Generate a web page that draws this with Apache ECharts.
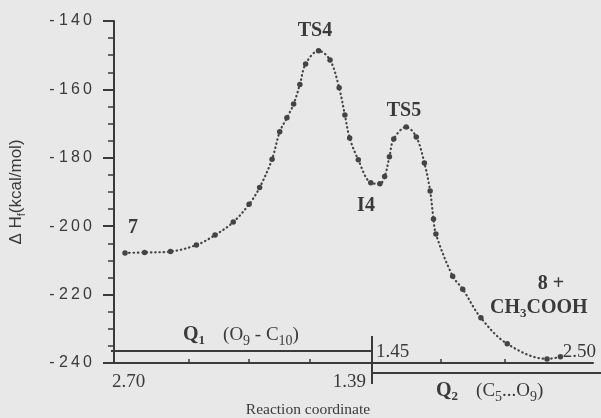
<!DOCTYPE html>
<html>
<head>
<meta charset="utf-8">
<script src="https://cdn.jsdelivr.net/npm/echarts@6/dist/echarts.min.js"></script>
<style>
html,body{margin:0;padding:0;background:#e8e8e8;}
#c{width:601px;height:418px;}
</style>
</head>
<body>
<div id="c"></div>
<script>
// Reaction coordinate (arbitrary units, 0-100 along the axis)
var coordX = [2.3, 6.4, 11.8, 17.2, 21.1, 24.9, 28.2, 30.4, 33.0, 34.6, 36.1, 37.5, 38.8, 40.0, 42.7, 45.1, 47.0, 48.2, 49.2, 51.0, 53.6, 55.5, 56.5, 57.5, 58.4, 61.0, 63.1, 64.8, 66.0, 66.7, 67.2, 70.7, 72.8, 76.6, 82.1, 90.4, 93.2];
// Heat of formation (kcal/mol)
var dHf = [-207.8, -207.7, -207.4, -205.5, -202.6, -198.8, -193.6, -188.7, -180.4, -172.4, -168.3, -164.3, -158.6, -152.6, -148.7, -151.4, -159.5, -167.5, -174.2, -180.6, -187.3, -187.6, -185.5, -179.7, -174.5, -171.0, -173.9, -181.5, -189.7, -197.9, -202.3, -214.6, -218.4, -226.8, -234.4, -238.8, -238.2];
var yTicks = [-240, -220, -200, -180, -160, -140];
var xTickPositions = [15.6, 28.2, 40.9, 68.3, 81.5];
var q1Labels = ['2.70', '1.39'];
var q2Labels = ['1.45', '2.50'];

var pts = coordX.map(function (x, i) { return [x, dHf[i]]; });
var ink = '#3a3a3a';
var serif = '"Liberation Serif","DejaVu Serif",serif';
var sans = '"Liberation Sans","DejaVu Sans",sans-serif';

var chart = echarts.init(document.getElementById('c'));
chart.setOption({
  backgroundColor: '#e8e8e8',
  animation: false,
  grid: {left: 111, right: 8, top: 21, bottom: 55},
  xAxis: {
    type: 'value', min: 0, max: 100,
    axisLine: {show: true, lineStyle: {color: ink, width: 2}},
    axisTick: {show: true, inside: true, length: 4, customValues: xTickPositions, lineStyle: {color: ink, width: 1.5}},
    axisLabel: {show: false},
    splitLine: {show: false}
  },
  yAxis: {
    type: 'value', min: yTicks[0], max: yTicks[yTicks.length - 1], interval: 20,
    name: '{n|\u0394 H}{s|f}{n|(kcal/mol)}',
    nameLocation: 'middle', nameGap: 87, nameRotate: 90,
    nameTextStyle: {rich: {
      n: {fontFamily: sans, fontSize: 17, color: ink},
      s: {fontFamily: sans, fontSize: 11, color: ink, padding: [10, 0, 0, 0]}
    }},
    axisLine: {show: true, lineStyle: {color: ink, width: 2}},
    axisTick: {show: true, length: 11, lineStyle: {color: ink, width: 2}},
    minorTick: {show: true, splitNumber: 4, length: 6, lineStyle: {color: ink, width: 1.5}},
    axisLabel: {
      margin: 22, fontFamily: sans, fontSize: 16, color: ink,
      formatter: function (v) {
        var s = String(v);
        return s.charAt(0) + ' ' + s.slice(1).split('').join('\u2009');
      }
    },
    splitLine: {show: false}
  },
  series: [{
    type: 'line', data: pts, smooth: 0.35,
    symbol: 'circle', symbolSize: 5.5,
    itemStyle: {color: '#444'},
    lineStyle: {color: '#444', width: 2.2, type: [0.5, 3.8], cap: 'round'},
    z: 5
  }],
  graphic: [
    {type: 'line', shape: {x1: 111, y1: 351, x2: 372, y2: 351}, style: {stroke: ink, lineWidth: 2}},
    {type: 'line', shape: {x1: 372, y1: 336, x2: 372, y2: 384}, style: {stroke: ink, lineWidth: 2}},
    {type: 'line', shape: {x1: 372, y1: 373, x2: 601, y2: 373}, style: {stroke: ink, lineWidth: 2}},
    {type: 'text', x: 112, y: 382, style: {text: q1Labels[0], font: '19px ' + serif, fill: ink, textVerticalAlign: 'middle'}},
    {type: 'text', x: 366, y: 382, style: {text: q1Labels[1], font: '19px ' + serif, fill: ink, textAlign: 'right', textVerticalAlign: 'middle'}},
    {type: 'text', x: 376, y: 352, style: {text: q2Labels[0], font: '19px ' + serif, fill: ink, textVerticalAlign: 'middle'}},
    {type: 'text', x: 596, y: 352, style: {text: q2Labels[1], font: '19px ' + serif, fill: ink, textAlign: 'right', textVerticalAlign: 'middle'}},
    {type: 'text', x: 183, y: 322, style: {
      text: '{b|Q}{bs|1}{g|}{n|(O}{s|9}{n| - C}{s|10}{n|)}',
      rich: {
        b: {font: 'bold 20px ' + serif, fill: ink},
        bs: {font: 'bold 13px ' + serif, fill: ink, padding: [12, 0, 0, 0]},
        g: {width: 18},
        n: {font: '19px ' + serif, fill: ink},
        s: {font: '14px ' + serif, fill: ink, padding: [12, 0, 0, 0]}
      }}},
    {type: 'text', x: 436, y: 378, style: {
      text: '{b|Q}{bs|2}{g|}{n|(C}{s|5}{n|...O}{s|9}{n|)}',
      rich: {
        b: {font: 'bold 20px ' + serif, fill: ink},
        bs: {font: 'bold 13px ' + serif, fill: ink, padding: [12, 0, 0, 0]},
        g: {width: 18},
        n: {font: '19px ' + serif, fill: ink},
        s: {font: '14px ' + serif, fill: ink, padding: [12, 0, 0, 0]}
      }}},
    {type: 'text', x: 308, y: 410, style: {text: 'Reaction coordinate', font: '15.5px ' + serif, fill: ink, textAlign: 'center', textVerticalAlign: 'middle'}},
    {type: 'text', x: 315, y: 31, style: {text: 'TS4', font: 'bold 20px ' + serif, fill: ink, textAlign: 'center', textVerticalAlign: 'middle'}},
    {type: 'text', x: 404, y: 111, style: {text: 'TS5', font: 'bold 20px ' + serif, fill: ink, textAlign: 'center', textVerticalAlign: 'middle'}},
    {type: 'text', x: 366, y: 206, style: {text: 'I4', font: 'bold 20px ' + serif, fill: ink, textAlign: 'center', textVerticalAlign: 'middle'}},
    {type: 'text', x: 133, y: 228, style: {text: '7', font: 'bold 20px ' + serif, fill: ink, textAlign: 'center', textVerticalAlign: 'middle'}},
    {type: 'text', x: 551, y: 284, style: {text: '8 +', font: 'bold 20px ' + serif, fill: ink, textAlign: 'center', textVerticalAlign: 'middle'}},
    {type: 'text', x: 490, y: 296, style: {
      text: '{b|CH}{s|3}{b|COOH}',
      rich: {
        b: {font: 'bold 20px ' + serif, fill: ink},
        s: {font: 'bold 13px ' + serif, fill: ink, padding: [11, 0, 0, 0]}
      }}}
  ]
});
</script>
</body>
</html>
